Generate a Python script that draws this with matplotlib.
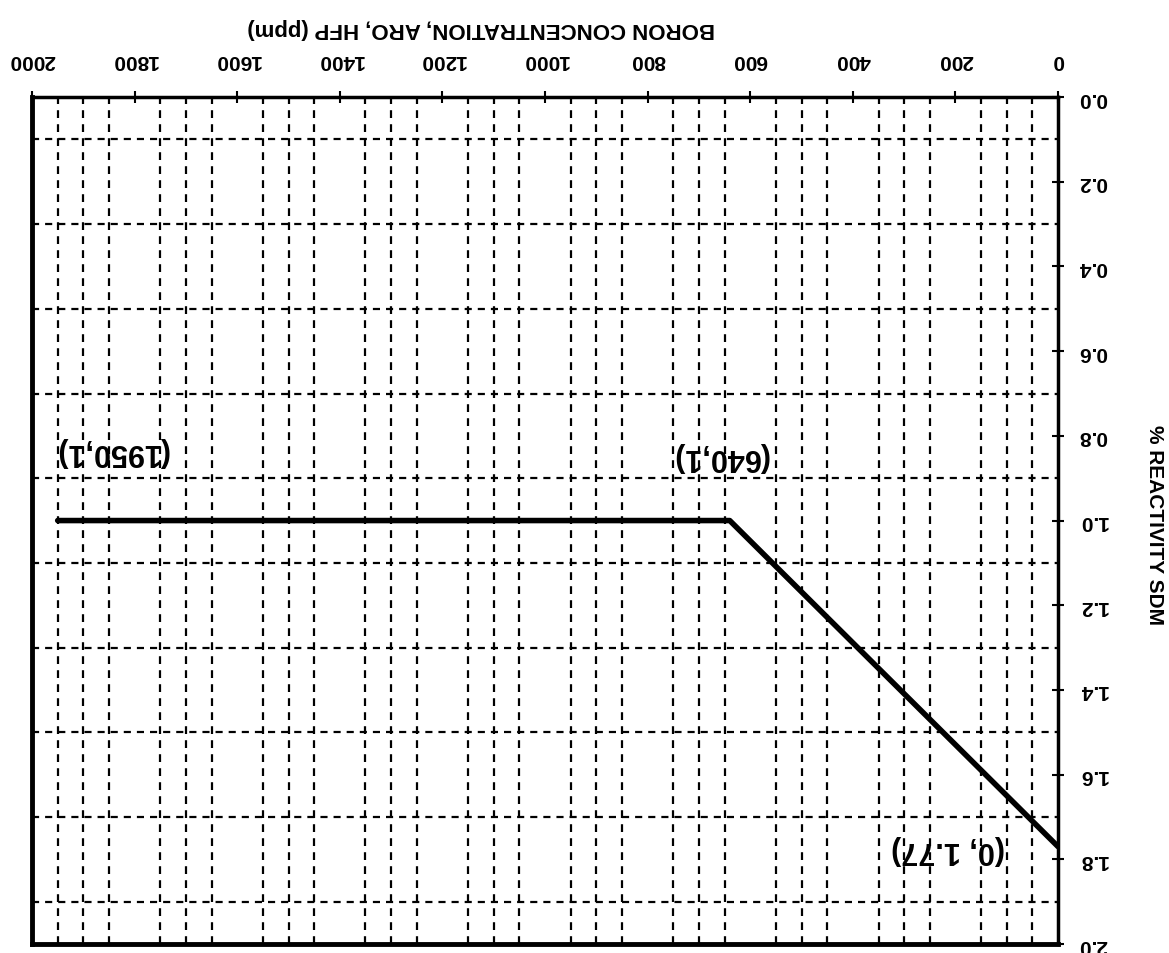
import matplotlib
matplotlib.use('Agg')
import matplotlib.pyplot as plt
import numpy as np

# the scanned page is upside down, so everything is drawn turned by 180 deg
boron = [0, 640, 1950]
sdm = [1.77, 1.0, 1.0]
labels = ['(0, 1.77)', '(640,1)', '(1950,1)']
label_x = [214, 659, 1844]
label_y = [1.776, 0.848, 0.836]

xticks = np.arange(0, 2001, 200)
yticks = np.arange(0, 2.01, 0.2)

plt.rcParams['font.family'] = ['Liberation Sans', 'DejaVu Sans']
plt.rcParams['font.weight'] = 'bold'

fig = plt.figure(figsize=(11.69, 9.54), dpi=100)
ax = fig.add_axes([0.0274, 0.0094, 0.8777, 0.8878])

ax.set_xlim(2000, 0)
ax.set_ylim(2.0, 0.0)

# grid
ax.set_xticks(np.arange(0, 2001, 50), minor=True)
ax.set_yticks(np.arange(0, 2.01, 0.1), minor=True)
ax.grid(True, which='minor', axis='x', color='black', lw=1.6, ls=(0, (3.5, 2.8)))
ax.grid(True, which='minor', axis='y', color='black', lw=1.6, ls=(0, (3.2, 2.7)))
ax.tick_params(which='minor', length=0)

ax.plot(boron, sdm, color='black', lw=4, solid_capstyle='round')

for t, x, y in zip(labels, label_x, label_y):
    ax.text(x, y, t, rotation=180, ha='center', va='center', fontsize=22,
            fontweight='bold')

ax.xaxis.tick_top()
ax.yaxis.tick_right()
ax.set_xticks(xticks)
ax.set_xticklabels([str(v) for v in xticks], rotation=180)
ax.set_yticks(yticks)
ax.set_yticklabels(['%.1f' % v for v in yticks], rotation=180, va='center')
ax.tick_params(which='major', direction='inout', length=9, width=1.5,
               labelsize=15)
ax.tick_params(axis='x', pad=16)
ax.tick_params(axis='y', pad=10)

ax.set_xlabel('BORON CONCENTRATION, ARO, HFP (ppm)', rotation=180,
              fontsize=16, fontweight='bold')
ax.xaxis.set_label_coords(0.4376, 1.0826)
ax.xaxis.label.set_va('center')
ax.set_ylabel('% REACTIVITY SDM', rotation=270, fontsize=15,
              fontweight='bold')
ax.yaxis.set_label_coords(1.0936, 0.496)
ax.yaxis.label.set_va('center')
ax.yaxis.label.set_ha('center')

for s in ax.spines.values():
    s.set_linewidth(2.5)
ax.spines['left'].set_linewidth(3.5)
ax.spines['bottom'].set_linewidth(3.5)

fig.savefig('out.png', dpi=100)
